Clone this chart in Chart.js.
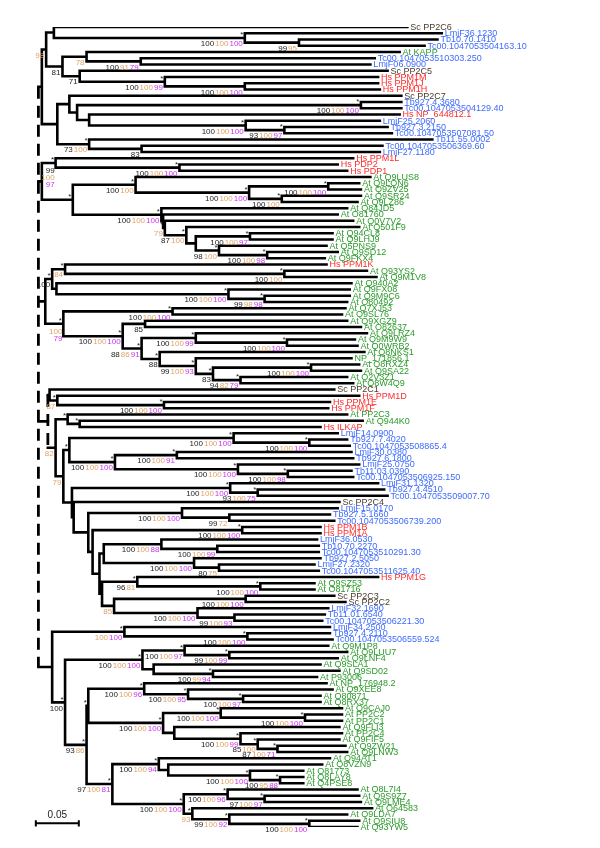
<!DOCTYPE html>
<html lang="en">
<head>
<meta charset="UTF-8">
<title>PP2C tree</title>
<script src="https://cdn.jsdelivr.net/npm/chart.js"></script>
<style>
  html, body { margin: 0; padding: 0; background: #fff; }
  canvas { display: block; }
</style>
</head>
<body>
<canvas id="tree" width="600" height="848"></canvas>
<script>
// leaf names, top to bottom
const leafNames = [
  "Sc PP2C6","LmjF36.1230","Tb10.70.1410","Tc00.1047053504163.10","At KAPP","Tc00.1047053510303.250","LmjF06.0900","Sc PP2C5","Hs PPM1M","Hs PPM1J",
  "Hs PPM1H","Sc PP2C7","Tb927.4.3680","Tc00.1047053504129.40","Hs NP_644812.1","LmjF25.2060","Tb927.3.2150","Tc00.1047053507081.50","Tb11.55.0002","Tc00.1047053506369.60",
  "LmjF27.1180","Hs PPM1L","Hs PDP2","Hs PDP1","At Q9LUS8","At Q9LQN6","At Q9ZV25","At Q9SR24","At Q9LZ86","At Q84JD5",
  "At O81760","At Q0V7V2","At Q501F9","At Q94CL8","At Q9LHJ9","At Q5PNS9","At Q9SD12","At Q9FKX4","Hs PPM1K","At Q93YS2",
  "At Q9M1V8","At Q940A2","At Q9FX08","At Q9M9C6","At O80492","At Q7XJ53","At Q9SL76","At Q9XGZ9","At O82637","At Q9LRZ4",
  "At Q9M9W9","At Q0WRB2","At Q8NKS1","NP_171856.1","At Q8RXZ4","At Q9SA22","At Q2V3Z1","At Q8W4Q9","Sc PP2C1","Hs PPM1D",
  "Hs PPM1E","Hs PPM1F","At PP2C3","At Q944K0","Hs ILKAP","LmjF14.0900","Tb927.7.4020","Tc00.1047053508865.4","LmjF30.0380","Tb927.6.1800",
  "LmjF25.0750","Tb11.03.0390","Tc00.1047053506925.150","LmjF31.1320","Tb927.4.4510","Tc00.1047053509007.70","Sc PP2C4","LmjF15.0170","Tb927.5.1660","Tc00.1047053506739.200",
  "Hs PPM1B","Hs PPM1A","LmjF36.0530","Tb10.70.2270","Tc00.1047053510291.30","Tb927.2.5050","LmjF27.2320","Tc00.1047053511625.40","Hs PPM1G","At Q9SZ53",
  "At O81716","Sc PP2C3","Sc PP2C2","LmjF32.1690","Tb11.01.6540","Tc00.1047053506221.30","LmjF34.2500","Tb927.4.2110","Tc00.1047053506559.524","At Q9M1P8",
  "At Q9LUU7","At Q9LNF4","At Q9SLA1","At Q9SD02","At P93006","At NP_176948.2","At Q9XEE8","At O80871","At Q8RX37","At Q9CAJ0",
  "At PP2C2","At PP2C1","At Q9FLI3","At PP2C4","At Q9FIF5","At Q9ZW21","At Q9LNW3","At Q94AT1","At Q8VZN9","At O81773",
  "At Q8LAY8","At Q4PSE8","At Q8L7I4","At Q9S9Z7","At Q9LME4","At O64583","At Q9LDA7","At Q9SIU8","At Q93YW5"
];

// distance from root to each tip (substitutions per site)
const leafDepth = [
  0.429,0.469,0.464,0.449,0.420,0.391,0.386,0.406,0.395,0.395,
  0.397,0.422,0.422,0.422,0.420,0.397,0.406,0.411,0.458,0.400,
  0.397,0.366,0.348,0.359,0.386,0.373,0.375,0.375,0.371,0.359,
  0.348,0.366,0.373,0.342,0.342,0.335,0.348,0.333,0.335,0.382,
  0.393,0.364,0.362,0.362,0.359,0.357,0.353,0.359,0.375,0.382,
  0.368,0.371,0.379,0.364,0.373,0.375,0.359,0.366,0.344,0.373,
  0.339,0.337,0.359,0.377,0.328,0.348,0.359,0.362,0.364,0.366,
  0.373,0.364,0.366,0.395,0.402,0.406,0.350,0.348,0.339,0.344,
  0.328,0.328,0.324,0.326,0.326,0.328,0.321,0.326,0.395,0.321,
  0.321,0.344,0.357,0.337,0.333,0.330,0.339,0.339,0.342,0.337,
  0.359,0.348,0.328,0.350,0.324,0.335,0.342,0.328,0.328,0.353,
  0.353,0.353,0.350,0.353,0.350,0.357,0.359,0.339,0.330,0.308,
  0.308,0.308,0.371,0.373,0.375,0.388,0.359,0.373,0.371
];

// clades: (children)depth@label ; leaves are indices into leafNames
// label: * = star, a/b/c = support values, ^ = stacked, ~ = dashed stem
const cladeTop = "((0,(1,(2,3)0.303@99/95/)0.240@*100/100/100)0.018,((4,(5,6)0.119@100/91/79)0.056@/78/,(7,(8,(9,10)0.240@100/100/100)0.147@*100/100/99)0.048@71//)0.028@81//)0.009@/98/";
const cladePP2C7 = "((11,((12,13)0.375@*100/100/100,(14,(15,(16,17)0.286@*93/100/97)0.241@*100/100/100)0.059)0.045)0.036,(18,(19,20)0.120@83//)0.059@*73/100/)0.022";
const cladePDP = "(21,(22,23)0.164@*100/100/100)0.020@^*99/100/97";
const cladeAtA = "((24,((25,26)0.337@*100/100/100,(27,28)0.283@*100/100/)0.245@*100/100/100)0.113@*100/100/,(29,(30,(31,(32,((33,34)0.246@*100/100/97,(35,(36,37)0.266@*100/100/98)0.210@*98/100/)0.183)0.172@*87/100/)0.147@*/79/)0.145)0.143@*100/100/100)0.040@*";
const cladePPM1K = "((38,(39,40)0.286@*100/100/)0.031@*/84/,(41,(42,(43,44)0.263@*99/98/98)0.221@*100/100/100)0.021)0.016@*100//";
const cladeAtB = "((45,46)0.156@*100/100/100,((47,48)0.124@85//,((49,(50,51)0.289@*100/100/100)0.183@*100/100/99,(52,(53,((54,55)0.317@*100/100/100,(56,57)0.235@*94/82/79)0.203@*83//)0.183@*99/100/93)0.141@*88//)0.120@*88/86/91)0.098@*100/100/100)0.029@^*/100/79";
const cladePPM1D = "(58,(59,(60,61)0.146@*100/100/100)0.022@*/87/)0.013";
const cladePP2C3 = "(62,(63,64)0.048@*)0.034@*";
const cladeKinA = "((65,(66,67)0.315@*100/100/100)0.227@*100/100/100,((68,69)0.161@*100/100/91,(70,(71,72)0.290@*100/100/98)0.232@*100/100/100)0.089@*100/100/100)0.036@*";
const cladeMixed = "((73,(74,75)0.255@*93/100/75)0.223@*100/100/100,(76,((77,(78,79)0.222@99/72/)0.167@100/100/100,((80,81)0.237@*100/100/100,(((82,(83,84)0.208@100/100/99)0.143@100/100/88,(85,(86,87)0.210@80/75/)0.181@100/100/100)0.076,((88,(89,90)0.258@*100/100/100)0.115@*96/81/,((91,92)0.241@100/100/100,(93,(94,95)0.228@99/100/93)0.185@100/100/100)0.088@/85/)0.074)0.071)0.063)0.058)0.041)0.039";
const cladeLmjF34 = "(96,(97,98)0.243@*100/100/100)0.100@*/100/100";
const cladeAtC = "((99,(100,101)0.222@*99/100/99)0.170@*100/100/97,(102,(103,104)0.203@*100/99/94)0.134)0.121@*100/100/100";
const cladeAtD = "((105,(106,(107,108)0.238@*100/100/97)0.174@*100/100/95)0.123@*100/100/96,((109,(110,111)0.310@*100/100/100)0.212@*100/100/100,(112,(113,(114,(115,116)0.278@*87/100/71)0.255@*85/100/)0.235@*100/100/99)0.158)0.145@*100/100/100)0.058@*";
const cladeAtE = "((117,(118,(119,(120,121)0.281@*100/95/88)0.246@*100/100/100)0.151)0.140@*100/100/94,((122,(123,124)0.263@*97/100/97)0.220@*100/100/96,(125,(126,(127,128)0.315@*100/100/100)0.222@*99/100/92)0.179@*/93/)0.169@*100/100/100)0.086@*97/100/81";

const treeString =
  "(" +
    "(" + cladeTop + "," + cladePP2C7 + ")0.004," +
    "(" + cladePDP + "," + cladeAtA + ")0.004," +
    "(" + cladePPM1K + "," + cladeAtB + ")0.008," +
    "(" + cladePPM1D + ",(" + cladePP2C3 + ",(" + cladeKinA + "," + cladeMixed + ")0.029@/79/)0.020@/82/)0.011@~," +
    "(" + cladeLmjF34 + ",(" + cladeAtC + ",(" + cladeAtD + "," + cladeAtE + ")0.056@*93/86/)0.031@*100//)0.016" +
  ")0@~";

const scaleBarLength = 0.05;
const scaleBarLabel = "0.05";

// ---- parse the tree ----
function parseTree(s) {
  let i = 0;
  function node() {
    if (s[i] === '(') {
      i++;
      const kids = [node()];
      while (s[i] === ',') { i++; kids.push(node()); }
      i++; // ')'
      let num = '';
      while (i < s.length && /[0-9.]/.test(s[i])) num += s[i++];
      let label = '';
      if (s[i] === '@') {
        i++;
        while (i < s.length && !/[,()]/.test(s[i])) label += s[i++];
      }
      return { kids: kids, depth: parseFloat(num), label: label };
    }
    let num = '';
    while (/[0-9]/.test(s[i])) num += s[i++];
    const idx = +num;
    return { leaf: idx, depth: leafDepth[idx], y: idx };
  }
  return node();
}

const root = parseTree(treeString);
const internals = [];
(function layout(n) {
  if (n.kids) {
    n.kids.forEach(layout);
    n.y = (n.kids[0].y + n.kids[n.kids.length - 1].y) / 2;
    internals.push(n);
  }
})(root);

const solid = [], dashed = [];
internals.forEach(n => {
  const target = n.label.includes('~') ? dashed : solid;
  target.push({ x: n.depth, y: n.kids[0].y }, { x: n.depth, y: n.kids[n.kids.length - 1].y }, { x: NaN, y: NaN });
  n.kids.forEach(k => {
    solid.push({ x: n.depth, y: k.y }, { x: k.depth, y: k.y }, { x: NaN, y: NaN });
  });
});

const barRow = 127.4;
const barStart = -0.003;
const bar = [
  { x: barStart, y: barRow }, { x: barStart + scaleBarLength, y: barRow }, { x: NaN, y: NaN },
  { x: barStart, y: barRow - 0.5 }, { x: barStart, y: barRow + 0.5 }, { x: NaN, y: NaN },
  { x: barStart + scaleBarLength, y: barRow - 0.5 }, { x: barStart + scaleBarLength, y: barRow + 0.5 }
];

function leafColor(name) {
  if (name.startsWith('At') || name.startsWith('NP_')) return '#2b9a2b';
  if (name.startsWith('Hs')) return '#ff2b2b';
  if (name.startsWith('Sc')) return '#4b3b2b';
  return '#3d6bff';
}
const supportColors = ['#222222', '#e0a266', '#cc33ee'];

const labelPlugin = {
  id: 'treeLabels',
  afterDatasetsDraw(chart) {
    const ctx = chart.ctx, xs = chart.scales.x, ys = chart.scales.y;
    ctx.save();
    // tip labels
    ctx.font = '9px "Liberation Sans", Arial, sans-serif';
    ctx.textAlign = 'left';
    ctx.textBaseline = 'middle';
    leafNames.forEach((name, i) => {
      ctx.fillStyle = leafColor(name);
      ctx.fillText(name, xs.getPixelForValue(leafDepth[i]) + 3, ys.getPixelForValue(i) + 0.5);
    });
    // node stars and support values
    internals.forEach(n => {
      const nx = xs.getPixelForValue(n.depth), ny = ys.getPixelForValue(n.y);
      if (n.label.includes('*')) {
        ctx.font = '8px "Liberation Sans", Arial, sans-serif';
        ctx.fillStyle = '#222';
        ctx.textAlign = 'center';
        ctx.textBaseline = 'middle';
        ctx.fillText('*', nx - 3, ny - 3);
      }
      const vals = n.label.replace(/[*^~]/g, '');
      if (!vals.includes('/')) return;
      const parts = vals.split('/');
      ctx.font = '8px "Liberation Sans", Arial, sans-serif';
      ctx.textBaseline = 'top';
      if (n.label.includes('^')) {
        ctx.textAlign = 'right';
        let k = 0;
        parts.forEach((p, j) => {
          if (!p) return;
          ctx.fillStyle = supportColors[j];
          ctx.fillText(p, nx - 1, ny + 4 + k * 7);
          k++;
        });
      } else {
        ctx.textAlign = 'left';
        const items = parts.map((p, j) => ({ p, j })).filter(o => o.p);
        const widths = items.map(o => ctx.measureText(o.p).width);
        const total = widths.reduce((a, b) => a + b, 0) + (items.length - 1) * 1;
        let x = nx - 2 - total;
        items.forEach((o, k) => {
          ctx.fillStyle = supportColors[o.j];
          ctx.fillText(o.p, x, ny + 2);
          x += widths[k] + 1;
        });
      }
    });
    // scale bar label
    ctx.font = '10px "Liberation Sans", Arial, sans-serif';
    ctx.fillStyle = '#222';
    ctx.textAlign = 'center';
    ctx.textBaseline = 'bottom';
    ctx.fillText(scaleBarLabel, xs.getPixelForValue(barStart + scaleBarLength / 2), ys.getPixelForValue(barRow) - 3);
    ctx.restore();
  }
};

new Chart(document.getElementById('tree').getContext('2d'), {
  type: 'scatter',
  data: {
    datasets: [
      { data: solid, showLine: true, borderColor: '#000', borderWidth: 2.6, borderCapStyle: 'square', pointRadius: 0, spanGaps: false },
      { data: dashed, showLine: true, borderColor: '#000', borderWidth: 2.8, borderDash: [12, 7], pointRadius: 0, spanGaps: false },
      { data: bar, showLine: true, borderColor: '#000', borderWidth: 2, pointRadius: 0, spanGaps: false }
    ]
  },
  options: {
    responsive: false,
    animation: false,
    devicePixelRatio: 1,
    layout: { padding: { left: 4, right: 0, top: 27, bottom: 21 } },
    plugins: { legend: { display: false }, tooltip: { enabled: false } },
    scales: {
      x: { type: 'linear', min: -0.04, max: 0.653, display: false },
      y: { type: 'linear', min: 0, max: 128, reverse: true, display: false }
    }
  },
  plugins: [labelPlugin]
});
</script>
</body>
</html>
